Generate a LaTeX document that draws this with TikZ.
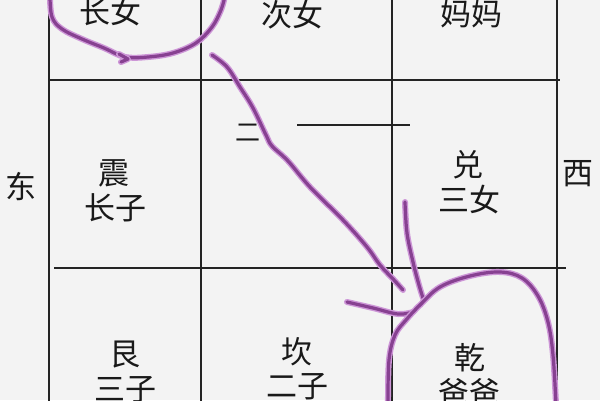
\documentclass[tikz,border=0pt]{standalone}
\usepackage{fontspec}
\newfontfamily\cjk{Noto Sans CJK SC}
\definecolor{bgc}{RGB}{243,243,243}
\definecolor{gridc}{RGB}{35,35,35}
\definecolor{txtc}{RGB}{25,25,25}
\definecolor{penlight}{RGB}{205,150,215}
\definecolor{pendark}{RGB}{135,65,145}
\begin{document}
\begin{tikzpicture}[x=1pt,y=-1pt,
  gridline/.style={line width=1.6pt, draw=gridc},
  lbl/.style={font=\cjk\fontsize{31}{31}\selectfont, text=txtc, inner sep=0pt},
  small/.style={font=\cjk\fontsize{25}{25}\selectfont, text=txtc, inner sep=0pt},
  ink/.style={line width=3.2pt, draw=pendark, line cap=round, line join=round,
    preaction={draw=penlight, line width=6pt, line cap=round, line join=round}}]
\useasboundingbox (0,0) rectangle (600,400);
\clip (0,0) rectangle (600,400);
\fill[bgc] (0,0) rectangle (600,400);
% grid
\draw[gridline] (49,-5) -- (49,405);
\draw[gridline] (201,-5) -- (201,405);
\draw[gridline] (392,-5) -- (392,405);
\draw[gridline] (557,-5) -- (557,405);
\draw[gridline] (48,80) -- (560,80);
\draw[gridline] (54,268) -- (566,268);
\draw[gridline] (297,125) -- (410,125);
% labels
\node[lbl] (zhangnv) at (110,12) {长女};
\node[lbl] (cinv) at (292,15) {次女};
\node[lbl] (mama) at (471,14) {妈妈};
\node[lbl] (dong) at (21,186) {东};
\node[lbl] (xi) at (578,174) {西};
\node[lbl] (zhen) at (114,173) {震};
\node[lbl] (zhangzi) at (115,208) {长子};
\node[lbl] (dui) at (468,165) {兑};
\node[lbl] (sannv) at (469,200) {三女};
\node[lbl] (gen) at (125,355) {艮};
\node[lbl] (sanzi) at (125,390) {三子};
\node[lbl] (kan) at (297,352) {坎};
\node[lbl] (erzi) at (297,387) {二子};
\node[lbl] (qian) at (470,358) {乾};
\node[lbl] (baba) at (469,393) {爸爸};
\node[small] (er) at (248,133) {二};
% pen strokes
\draw[ink] plot[smooth, tension=0.6] coordinates {(50,-4) (52,17) (62,29) (82,39) (104,48) (125,57) (148,57) (173,53) (196,43) (212,27) (221,10) (225,-4)};
\draw[ink] (119,54) -- (128,59) -- (121,62);
\draw[ink] plot[smooth, tension=0.6] coordinates {(212,55) (227,67) (240,87) (253,108) (266,135) (272,146) (288,161) (310,187) (343,220) (367,247) (380,265) (394,280) (403,290)};
\draw[ink] plot[smooth, tension=0.6] coordinates {(405,202) (407,233) (413,262) (419,285) (423,298)};
\draw[ink] plot[smooth, tension=0.6] coordinates {(347,302) (373,308) (398,314) (413,312)};
\draw[ink] plot[smooth, tension=0.6] coordinates {(388,404) (389,360) (395,335) (406,320) (420,305) (440,287) (470,276) (500,272) (522,278) (538,296) (548,322) (553,355) (556,404)};
\end{tikzpicture}
\end{document}
